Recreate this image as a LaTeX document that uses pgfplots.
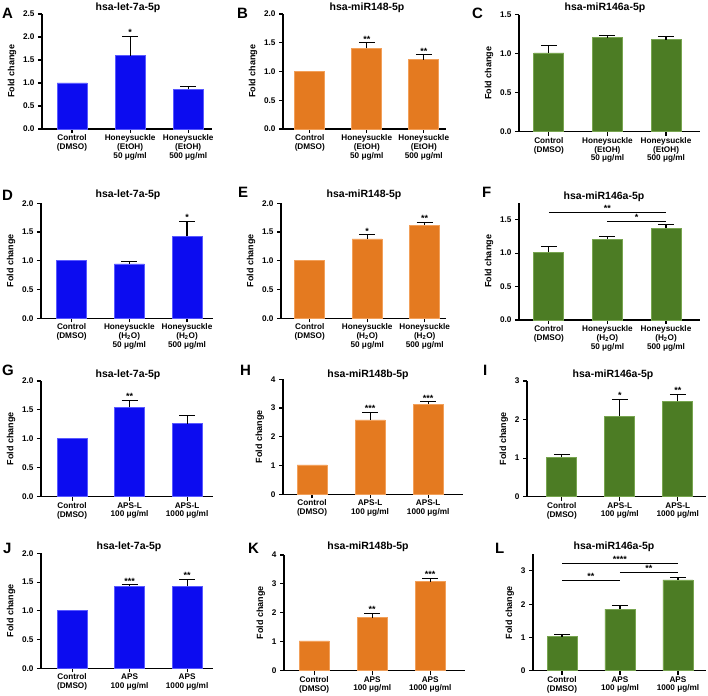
\documentclass[border=0pt]{standalone}
\usepackage{fontspec}
\setmainfont{Liberation Sans}
\usepackage{pgfplots}
\pgfplotsset{compat=1.18}
\definecolor{cb}{RGB}{12,12,240}
\definecolor{cbe}{RGB}{90,90,255}
\definecolor{co}{RGB}{228,122,32}
\definecolor{coe}{RGB}{242,160,90}
\definecolor{cg}{RGB}{76,124,36}
\definecolor{cge}{RGB}{120,165,80}
\newcommand\F[2]{\fontsize{#1}{#2}\selectfont\bfseries}
\pgfplotsset{
 panel/.style={
  scale only axis, axis lines=left, axis line style={-, line width=1.1pt, black},
  every tick/.style={black, line width=1.1pt}, major tick length=4pt, tick align=outside,
  xtick={0,1,2}, ymin=0, clip=false, anchor=south west,
  /pgf/number format/assume math mode=true,
  tick label style={font=\F{8.2}{8.7}},
  xticklabel style={align=center, inner sep=1.5pt},
  yticklabel style={/pgf/number format/.cd, fixed, fixed zerofill, precision=1},
  ylabel={Fold change}, ylabel style={font=\F{9}{9}},
 },
 intp/.style={yticklabel style={/pgf/number format/precision=0}},
 bars/.style={ybar, bar width=30pt, bar shift=0pt, line width=0.8pt},
 errs/.style={draw=none, mark=none, forget plot,
   error bars/.cd, y dir=plus, y explicit,
   error bar style={draw=black, line width=1.1pt},
   error mark options={draw=black, mark size=8pt, line width=1.1pt, rotate=90}},
}
\tikzset{ttl/.style={font=\F{10.5}{11}, inner sep=0pt},
 lett/.style={font=\F{15}{15}, inner sep=0pt, anchor=north west},
 sig/.style={anchor=south, inner sep=0.5pt, font=\F{9}{9}}}
\begin{document}
\begin{tikzpicture}
\useasboundingbox (0,0) rectangle (708pt,695pt);
% ---------- Row 1 ----------
\begin{axis}[panel, at={(42pt,566pt)}, width=170pt, height=115pt, xmin=-0.517, xmax=2.41, ymax=2.5,
 ytick={0,0.5,1,1.5,2,2.5},
 xticklabels={{Control\\(DMSO)},{Honeysuckle\\(EtOH)\\50 μg/ml},{Honeysuckle\\(EtOH)\\500 μg/ml}}]
\addplot[bars, fill=cb, draw=cbe] coordinates {(0,1.0)(1,1.59)(2,0.86)};
\addplot[errs] coordinates {(1,1.59) +- (0,0.43) (2,0.86) +- (0,0.06)};
\node[sig] at (axis cs:1,2.02) {*};
\end{axis}
\begin{axis}[panel, at={(283pt,566pt)}, width=163pt, height=115pt, xmin=-0.47, xmax=2.39, ymax=2,
 ytick={0,0.5,1,1.5,2},
 xticklabels={{Control\\(DMSO)},{Honeysuckle\\(EtOH)\\50 μg/ml},{Honeysuckle\\(EtOH)\\500 μg/ml}}]
\addplot[bars, fill=co, draw=coe] coordinates {(0,1.0)(1,1.40)(2,1.205)};
\addplot[errs] coordinates {(1,1.40) +- (0,0.10) (2,1.205) +- (0,0.085)};
\node[sig] at (axis cs:1,1.50) {**};
\node[sig] at (axis cs:2,1.29) {**};
\end{axis}
\begin{axis}[panel, at={(519pt,563.3pt)}, width=181pt, height=117pt, xmin=-0.51, xmax=2.58, ymax=1.5,
 ytick={0,0.5,1,1.5},
 xticklabels={{Control\\(DMSO)},{Honeysuckle\\(EtOH)\\50 μg/ml},{Honeysuckle\\(EtOH)\\500 μg/ml}}]
\addplot[bars, fill=cg, draw=cge] coordinates {(0,1.01)(1,1.205)(2,1.18)};
\addplot[errs] coordinates {(0,1.01) +- (0,0.10) (1,1.205) +- (0,0.025) (2,1.18) +- (0,0.04)};
\end{axis}
% ---------- Row 2 ----------
\begin{axis}[panel, at={(41pt,376.7pt)}, width=172pt, height=115pt, xmin=-0.53, xmax=2.45, ymax=2,
 ytick={0,0.5,1,1.5,2},
 xticklabels={{Control\\(DMSO)},{Honeysuckle\\(H\textsubscript{2}O)\\50 μg/ml},{Honeysuckle\\(H\textsubscript{2}O)\\500 μg/ml}}]
\addplot[bars, fill=cb, draw=cbe] coordinates {(0,1.01)(1,0.945)(2,1.426)};
\addplot[errs] coordinates {(1,0.945) +- (0,0.045) (2,1.426) +- (0,0.254)};
\node[sig] at (axis cs:2,1.68) {*};
\end{axis}
\begin{axis}[panel, at={(281pt,376.7pt)}, width=165pt, height=115pt, xmin=-0.5, xmax=2.37, ymax=2,
 ytick={0,0.5,1,1.5,2},
 xticklabels={{Control\\(DMSO)},{Honeysuckle\\(H\textsubscript{2}O)\\50 μg/ml},{Honeysuckle\\(H\textsubscript{2}O)\\500 μg/ml}}]
\addplot[bars, fill=co, draw=coe] coordinates {(0,1.01)(1,1.38)(2,1.62)};
\addplot[errs] coordinates {(1,1.38) +- (0,0.07) (2,1.62) +- (0,0.05)};
\node[sig] at (axis cs:1,1.45) {*};
\node[sig] at (axis cs:2,1.67) {**};
\end{axis}
\begin{axis}[panel, at={(519pt,375pt)}, width=181pt, height=117pt, xmin=-0.51, xmax=2.58, ymax=1.75,
 ytick={0,0.5,1,1.5},
 xticklabels={{Control\\(DMSO)},{Honeysuckle\\(H\textsubscript{2}O)\\50 μg/ml},{Honeysuckle\\(H\textsubscript{2}O)\\500 μg/ml}}]
\addplot[bars, fill=cg, draw=cge] coordinates {(0,1.01)(1,1.21)(2,1.375)};
\addplot[errs] coordinates {(0,1.01) +- (0,0.09) (1,1.21) +- (0,0.04) (2,1.375) +- (0,0.06)};
\draw[line width=0.9pt] (axis cs:0,1.615) -- (axis cs:2,1.615);
\node[sig] at (axis cs:1,1.615) {**};
\draw[line width=0.9pt] (axis cs:1,1.475) -- (axis cs:2,1.475);
\node[sig] at (axis cs:1.5,1.475) {*};
\end{axis}
% ---------- Row 3 ----------
\begin{axis}[panel, at={(41pt,198.3pt)}, width=172pt, height=115.7pt, xmin=-0.54, xmax=2.45, ymax=2,
 ytick={0,0.5,1,1.5,2},
 xticklabels={{Control\\(DMSO)},{APS-L\\100 μg/ml},{APS-L\\1000 μg/ml}}]
\addplot[bars, fill=cb, draw=cbe] coordinates {(0,1.01)(1,1.545)(2,1.26)};
\addplot[errs] coordinates {(1,1.545) +- (0,0.115) (2,1.26) +- (0,0.14)};
\node[sig] at (axis cs:1,1.66) {**};
\end{axis}
\begin{axis}[panel, intp, at={(283pt,200.7pt)}, width=180pt, height=115pt, xmin=-0.5, xmax=2.6, ymax=4,
 ytick={0,1,2,3,4},
 xticklabels={{Control\\(DMSO)},{APS-L\\100 μg/ml},{APS-L\\1000 μg/ml}}]
\addplot[bars, fill=co, draw=coe] coordinates {(0,1.02)(1,2.585)(2,3.14)};
\addplot[errs] coordinates {(1,2.585) +- (0,0.275) (2,3.14) +- (0,0.08)};
\node[sig] at (axis cs:1,2.86) {***};
\node[sig] at (axis cs:2,3.22) {***};
\end{axis}
\begin{axis}[panel, intp, at={(527pt,198.3pt)}, width=178.6pt, height=115.7pt, xmin=-0.6, xmax=2.48, ymax=3,
 ytick={0,1,2,3},
 xticklabels={{Control\\(DMSO)},{APS-L\\100 μg/ml},{APS-L\\1000 μg/ml}}]
\addplot[bars, fill=cg, draw=cge] coordinates {(0,1.02)(1,2.09)(2,2.47)};
\addplot[errs] coordinates {(0,1.02) +- (0,0.08) (1,2.09) +- (0,0.43) (2,2.47) +- (0,0.18)};
\node[sig] at (axis cs:1,2.52) {*};
\node[sig] at (axis cs:2,2.65) {**};
\end{axis}
% ---------- Row 4 ----------
\begin{axis}[panel, at={(41pt,26.7pt)}, width=172pt, height=115pt, xmin=-0.54, xmax=2.45, ymax=2,
 ytick={0,0.5,1,1.5,2},
 xticklabels={{Control\\(DMSO)},{APS\\100 μg/ml},{APS\\1000 μg/ml}}]
\addplot[bars, fill=cb, draw=cbe] coordinates {(0,1.01)(1,1.43)(2,1.43)};
\addplot[errs] coordinates {(1,1.43) +- (0,0.02) (2,1.43) +- (0,0.12)};
\node[sig] at (axis cs:1,1.45) {***};
\node[sig] at (axis cs:2,1.55) {**};
\end{axis}
\begin{axis}[panel, intp, at={(284pt,24.3pt)}, width=181pt, height=115.7pt, xmin=-0.52, xmax=2.6, ymax=4,
 ytick={0,1,2,3,4},
 xticklabels={{Control\\(DMSO)},{APS\\100 μg/ml},{APS\\1000 μg/ml}}]
\addplot[bars, fill=co, draw=coe] coordinates {(0,1.03)(1,1.83)(2,3.08)};
\addplot[errs] coordinates {(1,1.83) +- (0,0.16) (2,3.08) +- (0,0.12)};
\node[sig] at (axis cs:1,1.99) {**};
\node[sig] at (axis cs:2,3.20) {***};
\end{axis}
\begin{axis}[panel, intp, at={(533pt,24.3pt)}, width=172.8pt, height=116.4pt, xmin=-0.5, xmax=2.48, ymax=3.5,
 ytick={0,1,2,3},
 xticklabels={{Control\\(DMSO)},{APS\\100 μg/ml},{APS\\1000 μg/ml}}]
\addplot[bars, fill=cg, draw=cge] coordinates {(0,1.02)(1,1.85)(2,2.73)};
\addplot[errs] coordinates {(0,1.02) +- (0,0.08) (1,1.85) +- (0,0.12) (2,2.73) +- (0,0.08)};
\draw[line width=0.9pt] (axis cs:0,3.23) -- (axis cs:2,3.23);
\node[sig] at (axis cs:1,3.23) {****};
\draw[line width=0.9pt] (axis cs:1,2.95) -- (axis cs:2,2.95);
\node[sig] at (axis cs:1.5,2.95) {**};
\draw[line width=0.9pt] (axis cs:0,2.71) -- (axis cs:1,2.71);
\node[sig] at (axis cs:0.5,2.71) {**};
\end{axis}
% ---------- titles ----------
\node[ttl] at (128pt,687pt) {hsa-let-7a-5p};
\node[ttl] at (367pt,687pt) {hsa-miR148-5p};
\node[ttl] at (605pt,687pt) {hsa-miR146a-5p};
\node[ttl] at (128pt,500pt) {hsa-let-7a-5p};
\node[ttl] at (364pt,500pt) {hsa-miR148-5p};
\node[ttl] at (604pt,498pt) {hsa-miR146a-5p};
\node[ttl] at (128pt,320pt) {hsa-let-7a-5p};
\node[ttl] at (368pt,320pt) {hsa-miR148b-5p};
\node[ttl] at (613pt,320pt) {hsa-miR146a-5p};
\node[ttl] at (129pt,148pt) {hsa-let-7a-5p};
\node[ttl] at (368pt,148pt) {hsa-miR148b-5p};
\node[ttl] at (614pt,148pt) {hsa-miR146a-5p};
% ---------- letters ----------
\node[lett] at (2pt,687pt) {A};
\node[lett] at (237pt,687pt) {B};
\node[lett] at (472pt,687pt) {C};
\node[lett] at (2pt,505pt) {D};
\node[lett] at (238pt,508pt) {E};
\node[lett] at (482pt,508pt) {F};
\node[lett] at (2pt,330pt) {G};
\node[lett] at (240pt,330pt) {H};
\node[lett] at (483pt,330pt) {I};
\node[lett] at (3pt,152pt) {J};
\node[lett] at (248pt,152pt) {K};
\node[lett] at (495pt,152pt) {L};
\end{tikzpicture}
\end{document}
